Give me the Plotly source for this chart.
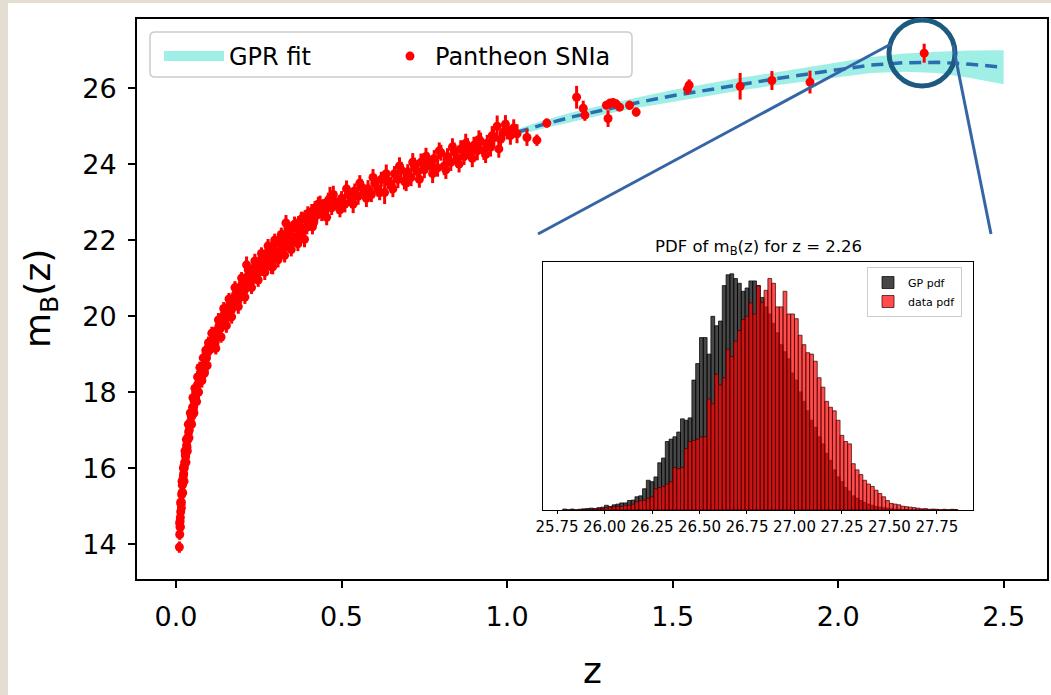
import plotly.graph_objects as go

# ---------------- data: Pantheon SNIa ----------------
z_sn = [
    0.010, 0.011, 0.012, 0.012, 0.013, 0.014, 0.015, 0.016, 0.017, 0.018, 0.019, 0.020,
    0.021, 0.022, 0.023, 0.024, 0.025, 0.026, 0.028, 0.029, 0.030, 0.032, 0.033, 0.035,
    0.036, 0.038, 0.040, 0.042, 0.044, 0.046, 0.048, 0.050, 0.052, 0.055, 0.058, 0.060,
    0.063, 0.066, 0.070, 0.073, 0.076, 0.080, 0.084, 0.088, 0.092, 0.096, 0.100,
    0.011, 0.013, 0.014, 0.016, 0.018, 0.020, 0.022, 0.024, 0.027, 0.030, 0.031, 0.034,
    0.037, 0.039, 0.043, 0.047, 0.051, 0.054, 0.057, 0.062, 0.065, 0.068, 0.072, 0.078,
    0.082, 0.086, 0.090, 0.094, 0.098,
    0.105, 0.110, 0.115, 0.118, 0.122, 0.126, 0.130, 0.134, 0.138, 0.142, 0.146, 0.150,
    0.154, 0.158, 0.162, 0.166, 0.170, 0.175, 0.180, 0.185, 0.190, 0.195, 0.200, 0.205,
    0.210, 0.215, 0.220, 0.225, 0.230, 0.235, 0.240, 0.245, 0.250, 0.255, 0.260, 0.265,
    0.270, 0.275, 0.280, 0.285, 0.290, 0.295, 0.300, 0.305, 0.310, 0.315, 0.320, 0.325,
    0.330, 0.335, 0.340, 0.345, 0.350, 0.355, 0.360, 0.365, 0.370, 0.375, 0.380, 0.385,
    0.390, 0.395, 0.400, 0.213, 0.292, 0.332,
    0.108, 0.120, 0.128, 0.136, 0.144, 0.152, 0.160, 0.168, 0.178, 0.188, 0.198, 0.208,
    0.218, 0.228, 0.238, 0.248, 0.258, 0.268, 0.278, 0.288, 0.298, 0.308, 0.318, 0.328,
    0.338, 0.348, 0.358, 0.368, 0.378, 0.388, 0.398,
    0.405, 0.410, 0.415, 0.420, 0.425, 0.430, 0.440, 0.445, 0.450, 0.460, 0.465, 0.470,
    0.480, 0.490, 0.500, 0.510, 0.520, 0.530, 0.540, 0.550, 0.560, 0.570, 0.580, 0.590,
    0.600, 0.610, 0.620, 0.630, 0.640, 0.650, 0.660, 0.670, 0.680, 0.690, 0.700, 0.710,
    0.720, 0.730, 0.740, 0.750, 0.760, 0.770, 0.780, 0.790, 0.800, 0.810, 0.820, 0.830,
    0.840, 0.850, 0.860, 0.870, 0.880, 0.890, 0.900, 0.910, 0.920, 0.930, 0.940, 0.950,
    0.960, 0.970, 0.980, 0.990, 1.000, 1.010, 1.020, 1.030, 1.060,
    0.412, 0.435, 0.455, 0.475, 0.495, 0.515, 0.535, 0.555, 0.575, 0.595, 0.615, 0.635,
    0.655, 0.675, 0.695, 0.715, 0.735, 0.755, 0.775, 0.795, 0.815, 0.835, 0.855, 0.875,
    0.895, 0.915, 0.935, 0.955, 0.975, 0.995,
    1.090, 1.120, 1.210, 1.230, 1.235, 1.300, 1.305, 1.310, 1.320, 1.330, 1.340, 1.370,
    1.390, 1.545, 1.550, 1.704, 1.800, 1.915, 2.260,
]
mb_sn = [
    13.92, 14.25, 14.45, 14.60, 14.70, 14.85, 15.05, 15.10, 15.30, 15.35, 15.55, 15.60,
    15.70, 15.80, 15.85, 16.05, 16.00, 16.15, 16.35, 16.30, 16.45, 16.60, 16.55, 16.80,
    16.75, 16.95, 17.00, 17.15, 17.20, 17.35, 17.40, 17.60, 17.55, 17.75, 17.80, 18.00,
    18.05, 18.20, 18.30, 18.45, 18.50, 18.65, 18.70, 18.85, 18.90, 19.05, 19.10,
    14.55, 14.45, 15.10, 14.95, 15.65, 15.35, 16.00, 15.65, 16.45, 16.15, 16.75, 16.45,
    17.15, 16.80, 17.45, 17.15, 17.85, 17.45, 18.10, 17.75, 18.40, 18.00, 18.65, 18.30,
    18.90, 18.50, 19.10, 18.70, 19.30,
    19.25, 19.20, 19.45, 19.30, 19.62, 19.50, 19.75, 19.68, 19.92, 19.78, 20.05, 19.95,
    20.18, 20.02, 20.30, 20.15, 20.42, 20.28, 20.58, 20.40, 20.72, 20.50, 20.86, 20.66,
    20.95, 20.78, 21.08, 20.90, 21.20, 21.02, 21.32, 21.10, 21.40, 21.22, 21.50, 21.30,
    21.58, 21.42, 21.75, 21.48, 21.80, 21.56, 21.92, 21.62, 21.97, 21.72, 22.08, 21.80,
    22.12, 21.90, 22.22, 21.96, 22.30, 22.02, 22.38, 22.10, 22.46, 22.18, 22.55, 22.26,
    22.60, 22.34, 22.66, 21.35, 21.30, 22.45,
    19.55, 19.15, 19.90, 19.45, 20.20, 19.75, 20.45, 19.98, 20.75, 20.25, 21.00, 20.50,
    21.22, 20.75, 21.45, 20.95, 21.65, 21.15, 21.85, 21.30, 22.00, 21.48, 22.15, 21.60,
    22.30, 21.75, 22.42, 21.90, 22.55, 22.02, 22.70,
    22.55, 22.75, 22.45, 22.85, 22.65, 22.95, 22.70, 22.90, 22.75, 23.05, 23.10, 22.85,
    23.00, 22.90, 23.10, 22.95, 23.20, 23.05, 23.30, 23.15, 23.40, 23.25, 23.35, 23.20,
    23.50, 23.35, 23.60, 23.25, 23.55, 23.45, 23.75, 23.60, 23.85, 23.55, 23.80, 23.65,
    23.95, 23.80, 24.05, 23.85, 24.10, 23.95, 24.15, 23.90, 24.30, 23.95, 24.20, 24.05,
    24.35, 24.15, 24.40, 24.20, 24.45, 24.30, 24.50, 24.35, 24.60, 24.35, 24.55, 24.45,
    24.70, 25.00, 24.65, 24.85, 24.90, 24.75, 24.95, 24.80, 24.70,
    22.35, 22.95, 22.60, 23.20, 22.80, 23.35, 22.95, 23.50, 23.10, 23.65, 23.25, 23.75,
    23.35, 23.95, 23.50, 24.05, 23.60, 24.20, 23.75, 24.35, 23.85, 24.45, 24.00, 24.55,
    24.15, 24.65, 24.25, 24.75, 24.40, 25.05,
    24.63, 25.08, 25.76, 25.47, 25.29, 25.55, 25.20, 25.60, 25.62, 25.58, 25.50, 25.55,
    25.37, 25.98, 26.08, 26.05, 26.20, 26.16, 26.92,
]
err_sn = [
    0.15, 0.14, 0.15, 0.13, 0.16, 0.14, 0.15, 0.13, 0.14, 0.16, 0.15, 0.14,
    0.13, 0.15, 0.14, 0.16, 0.15, 0.14, 0.13, 0.15, 0.16, 0.14, 0.15, 0.13,
    0.14, 0.16, 0.15, 0.14, 0.13, 0.15, 0.14, 0.16, 0.15, 0.14, 0.13, 0.15,
    0.16, 0.14, 0.15, 0.13, 0.14, 0.16, 0.15, 0.14, 0.13, 0.15, 0.14,
    0.16, 0.15, 0.14, 0.17, 0.15, 0.16, 0.14, 0.17, 0.15, 0.16, 0.14, 0.17,
    0.15, 0.16, 0.18, 0.15, 0.17, 0.16, 0.15, 0.18, 0.16, 0.17, 0.15, 0.18,
    0.16, 0.17, 0.15, 0.18, 0.16,
    0.14, 0.16, 0.15, 0.17, 0.13, 0.15, 0.16, 0.14, 0.18, 0.15, 0.14, 0.16,
    0.15, 0.17, 0.14, 0.16, 0.15, 0.18, 0.14, 0.16, 0.15, 0.17, 0.16, 0.14,
    0.18, 0.15, 0.16, 0.17, 0.15, 0.16, 0.18, 0.15, 0.17, 0.16, 0.15, 0.18,
    0.16, 0.17, 0.15, 0.18, 0.16, 0.17, 0.15, 0.18, 0.16, 0.17, 0.19, 0.16,
    0.18, 0.17, 0.16, 0.19, 0.17, 0.18, 0.16, 0.19, 0.17, 0.18, 0.20, 0.17,
    0.18, 0.19, 0.17, 0.22, 0.20, 0.21,
    0.17, 0.16, 0.18, 0.15, 0.17, 0.19, 0.16, 0.18, 0.17, 0.19, 0.16, 0.18,
    0.20, 0.17, 0.19, 0.18, 0.16, 0.20, 0.18, 0.19, 0.17, 0.20, 0.18, 0.19,
    0.21, 0.18, 0.20, 0.19, 0.18, 0.21, 0.19,
    0.18, 0.20, 0.19, 0.18, 0.21, 0.19, 0.20, 0.18, 0.21, 0.20, 0.30, 0.19,
    0.20, 0.21, 0.19, 0.22, 0.20, 0.21, 0.19, 0.22, 0.20, 0.21, 0.23, 0.20,
    0.22, 0.21, 0.20, 0.30, 0.21, 0.22, 0.20, 0.23, 0.21, 0.22, 0.20, 0.23,
    0.22, 0.21, 0.23, 0.22, 0.21, 0.24, 0.22, 0.23, 0.21, 0.24, 0.22, 0.23,
    0.22, 0.24, 0.23, 0.22, 0.24, 0.23, 0.22, 0.25, 0.23, 0.24, 0.22, 0.25,
    0.23, 0.28, 0.24, 0.23, 0.25, 0.24, 0.23, 0.25, 0.22,
    0.20, 0.22, 0.21, 0.23, 0.20, 0.22, 0.24, 0.21, 0.23, 0.22, 0.20, 0.24,
    0.22, 0.23, 0.21, 0.24, 0.22, 0.23, 0.25, 0.22, 0.24, 0.23, 0.22, 0.25,
    0.23, 0.24, 0.22, 0.25, 0.23, 0.24,
    0.15, 0.12, 0.30, 0.20, 0.15, 0.10, 0.22, 0.12, 0.10, 0.12, 0.10, 0.12,
    0.12, 0.15, 0.15, 0.35, 0.25, 0.30, 0.25,
]

# ---------------- data: GPR reconstruction ----------------
z_gp = [1.03, 1.10, 1.20, 1.30, 1.40, 1.50, 1.60, 1.70, 1.80, 1.90, 2.00, 2.10, 2.20, 2.30, 2.40, 2.50]
mean_gp = [24.84, 25.02, 25.25, 25.45, 25.63, 25.80, 25.95, 26.10, 26.23, 26.36, 26.48, 26.61, 26.67, 26.68, 26.63, 26.55]
sigma_gp = [0.08, 0.10, 0.12, 0.13, 0.14, 0.15, 0.16, 0.17, 0.17, 0.18, 0.19, 0.21, 0.24, 0.28, 0.36, 0.45]

# ---------------- data: inset histograms (PDF at z = 2.26) ----------------
bin_centers = [
    25.79, 25.81, 25.83, 25.85, 25.87, 25.89, 25.91, 25.93, 25.95, 25.97,
    25.99, 26.01, 26.03, 26.05, 26.07, 26.09, 26.11, 26.13, 26.15, 26.17,
    26.19, 26.21, 26.23, 26.25, 26.27, 26.29, 26.31, 26.33, 26.35, 26.37,
    26.39, 26.41, 26.43, 26.45, 26.47, 26.49, 26.51, 26.53, 26.55, 26.57,
    26.59, 26.61, 26.63, 26.65, 26.67, 26.69, 26.71, 26.73, 26.75, 26.77,
    26.79, 26.81, 26.83, 26.85, 26.87, 26.89, 26.91, 26.93, 26.95, 26.97,
    26.99, 27.01, 27.03, 27.05, 27.07, 27.09, 27.11, 27.13, 27.15, 27.17,
    27.19, 27.21, 27.23, 27.25, 27.27, 27.29, 27.31, 27.33, 27.35, 27.37,
    27.39, 27.41, 27.43, 27.45, 27.47, 27.49, 27.51, 27.53, 27.55, 27.57,
    27.59, 27.61, 27.63, 27.65, 27.67, 27.69, 27.71, 27.73, 27.75, 27.77,
    27.79, 27.81, 27.83, 27.85,
]
gp_counts = [
    0.4, 0.0, 0.4, 0.0, 0.3, 0.5, 0.6, 0.8, 0.6, 1.0,
    1.2, 2.0, 1.5, 2.2, 2.5, 3.0, 3.0, 4.0, 4.2, 5.6,
    6.0, 9.0, 12.6, 12.0, 14.0, 20.0, 22.0, 29.0, 30.0, 31.0,
    33.0, 38.6, 38.0, 39.0, 55.0, 62.0, 73.0, 73.0, 66.0, 82.0,
    78.0, 80.0, 95.0, 99.6, 100.0, 98.0, 96.0, 92.6, 94.0, 97.0,
    97.0, 95.0, 90.0, 86.0, 83.0, 79.0, 75.0, 70.0, 67.0, 64.0,
    58.0, 55.0, 50.0, 46.0, 42.0, 38.0, 35.0, 31.0, 28.0, 24.0,
    21.0, 17.0, 14.0, 12.0, 9.5, 8.0, 6.0, 5.0, 4.0, 3.2,
    2.5, 2.0, 1.5, 1.2, 1.0, 0.8, 0.6, 0.4, 0.3, 0.2,
    0.2, 0.0, 0.0, 0.0, 0.2, 0.0, 0.0, 0.0, 0.0, 0.0,
    0.0, 0.0, 0.0, 0.0,
]
data_counts = [
    0.0, 0.0, 0.0, 0.0, 0.0, 0.0, 0.3, 0.0, 0.4, 0.5,
    0.6, 1.0, 1.2, 1.4, 1.6, 1.5, 2.0, 2.0, 2.5, 3.5,
    4.0, 4.2, 5.0, 5.6, 9.0, 9.5, 10.0, 11.0, 12.0, 18.0,
    17.5, 18.0, 26.0, 29.0, 29.5, 30.0, 31.0, 31.0, 47.0, 45.0,
    57.5, 53.0, 56.0, 68.0, 65.0, 71.5, 76.0, 80.6, 82.0, 87.7,
    83.0, 95.0, 88.0, 93.0, 98.0, 96.0, 86.0, 86.0, 92.6, 83.0,
    83.0, 81.0, 74.0, 70.0, 66.6, 66.0, 63.0, 56.0, 52.0, 46.0,
    43.5, 42.0, 38.0, 31.6, 29.0, 28.0, 19.6, 17.0, 15.0, 12.6,
    11.0, 10.0, 8.4, 7.0, 5.6, 4.0, 2.8, 2.5, 2.2, 1.6,
    1.4, 1.2, 1.0, 0.8, 0.5, 0.6, 0.3, 0.4, 0.3, 0.0,
    0.3, 0.0, 0.3, 0.2,
]
inset_ticks = [25.75, 26.00, 26.25, 26.50, 26.75, 27.00, 27.25, 27.50, 27.75]
main_xticks = [0.0, 0.5, 1.0, 1.5, 2.0, 2.5]
main_yticks = [14, 16, 18, 20, 22, 24, 26]

# ---------------- layout helpers (pixel -> paper) ----------------
W, H = 1051, 695
L, R, T, B = 137, 1047, 19, 579
PW, PH = R - L, B - T


def px(x):
    return (x - L) / PW


def py(y):
    return (B - y) / PH


FONT = "DejaVu Sans"
BAND = "rgba(64,224,208,0.5)"
fig = go.Figure()

# GPR band
band_x = z_gp + z_gp[::-1]
band_y = [m + s for m, s in zip(mean_gp, sigma_gp)] + [m - s for m, s in zip(mean_gp[::-1], sigma_gp[::-1])]
fig.add_trace(go.Scatter(
    x=band_x, y=band_y, fill="toself", fillcolor=BAND,
    line=dict(width=0), mode="lines", name="GPR fit", hoverinfo="skip", showlegend=False,
))
# legend entry for the band (wide patch)
fig.add_trace(go.Scatter(
    x=[None], y=[None], mode="lines", name="GPR fit", legend="legend",
    line=dict(color=BAND, width=20),
))
fig.add_trace(go.Scatter(
    x=z_gp, y=mean_gp, mode="lines", line=dict(color="#2a6db0", width=3.5, dash="12px,7px"),
    showlegend=False,
))
fig.add_trace(go.Scatter(
    x=z_sn, y=mb_sn, mode="markers", name="Pantheon SNIa", legend="legend3",
    marker=dict(color="#ff0000", size=9),
    error_y=dict(type="data", array=err_sn, color="#ff0000", thickness=3, width=0),
))

# inset histograms
fig.add_trace(go.Bar(
    x=bin_centers, y=gp_counts, width=0.02, name="GP pdf",
    marker=dict(color="rgba(0,0,0,0.72)", line=dict(color="rgba(0,0,0,0.9)", width=0.8)),
    xaxis="x2", yaxis="y2", legend="legend2",
))
fig.add_trace(go.Bar(
    x=bin_centers, y=data_counts, width=0.02, name="data pdf",
    marker=dict(color="rgba(255,0,0,0.7)", line=dict(color="rgba(60,0,0,0.9)", width=0.8)),
    xaxis="x2", yaxis="y2", legend="legend2",
))

axis_common = dict(showline=True, mirror=True, linecolor="black", linewidth=2,
                   ticks="outside", ticklen=7, tickwidth=1.5, tickcolor="black",
                   showgrid=False, zeroline=False, automargin=False,
                   tickfont=dict(family=FONT, size=27, color="black"))

leg_common = dict(orientation="h", xanchor="left", yanchor="top",
                  font=dict(family=FONT, size=24, color="black"),
                  bgcolor="rgba(0,0,0,0)", borderwidth=0)

fig.update_layout(
    width=W, height=H,
    margin=dict(l=L, r=W - R, t=T, b=H - B, pad=0, autoexpand=False),
    paper_bgcolor="white", plot_bgcolor="white",
    font=dict(family=FONT, color="black"),
    barmode="overlay",
    xaxis=dict(range=[-0.118, 2.631], tickvals=main_xticks,
               ticktext=["%.1f" % v for v in main_xticks], ticklabelstandoff=6, **axis_common),
    yaxis=dict(range=[13.08, 27.82], tickvals=main_yticks, ticklabelstandoff=6, **axis_common),
    xaxis2=dict(domain=[px(543), px(973)], anchor="y2", range=[25.676, 27.94],
                tickvals=inset_ticks, ticktext=["%.2f" % v for v in inset_ticks], tickangle=0,
                showline=True, mirror=True, linecolor="black", linewidth=1,
                ticks="outside", ticklen=3, tickwidth=1, tickcolor="black",
                showgrid=False, zeroline=False, automargin=False,
                tickfont=dict(family=FONT, size=15, color="black")),
    yaxis2=dict(domain=[py(510), py(262)], anchor="x2", range=[0, 105],
                showline=True, mirror=True, linecolor="black", linewidth=1,
                showticklabels=False, ticks="", showgrid=False, zeroline=False, automargin=False),
    legend=dict(x=px(159), y=py(34), itemwidth=60, **leg_common),
    legend3=dict(x=px(385), y=py(34), itemwidth=40, **leg_common),
    legend2=dict(x=px(867), y=py(267), xanchor="left", yanchor="top",
                 font=dict(family=FONT, size=11, color="black"),
                 bgcolor="white", bordercolor="#cccccc", borderwidth=1,
                 tracegroupgap=0, itemwidth=30),
    showlegend=True,
)

# main legend frame (rounded box enclosing both legend entries)
x0, x1, y0, y1, r = 150, 632, 32, 77, 5
rx, ry = r / PW, r / PH
frame_path = (
    f"M {px(x0) + rx},{py(y0)} L {px(x1) - rx},{py(y0)} Q {px(x1)},{py(y0)} {px(x1)},{py(y0) - ry} "
    f"L {px(x1)},{py(y1) + ry} Q {px(x1)},{py(y1)} {px(x1) - rx},{py(y1)} "
    f"L {px(x0) + rx},{py(y1)} Q {px(x0)},{py(y1)} {px(x0)},{py(y1) + ry} "
    f"L {px(x0)},{py(y0) - ry} Q {px(x0)},{py(y0)} {px(x0) + rx},{py(y0)} Z"
)
fig.add_shape(type="path", path=frame_path, xref="paper", yref="paper", layer="above",
              fillcolor="rgba(255,255,255,0.8)", line=dict(color="#cccccc", width=1.5))

# axis titles and inset title as annotations
fig.add_annotation(x=px(592), y=py(670), xref="paper", yref="paper", text="z",
                   xanchor="center", yanchor="middle",
                   showarrow=False, font=dict(family=FONT, size=36, color="black"))
fig.add_annotation(x=px(40), y=py(299), xref="paper", yref="paper", text="m<sub>B</sub>(z)",
                   xanchor="center", yanchor="middle",
                   textangle=-90, showarrow=False, font=dict(family=FONT, size=36, color="black"))
fig.add_annotation(x=px(758), y=py(247), xref="paper", yref="paper",
                   text="PDF of m<sub>B</sub>(z) for z = 2.26",
                   xanchor="center", yanchor="middle",
                   showarrow=False, font=dict(family=FONT, size=16.5, color="black"))

# zoom circle and connecting lines
fig.add_shape(type="circle", xref="paper", yref="paper",
              x0=px(889), x1=px(955), y0=py(86), y1=py(20),
              line=dict(color="#1c5a80", width=5))
fig.add_shape(type="line", xref="paper", yref="paper",
              x0=px(538), y0=py(234), x1=px(891), y1=py(44),
              line=dict(color="#3665a6", width=3))
fig.add_shape(type="line", xref="paper", yref="paper",
              x0=px(953), y0=py(45), x1=px(991), y1=py(234),
              line=dict(color="#3665a6", width=3))

# beige frame strips of the original screenshot
fig.add_shape(type="rect", xref="paper", yref="paper", layer="above",
              x0=px(0), x1=px(8), y0=py(H), y1=py(0),
              line=dict(width=0), fillcolor="#e4ddd2")
fig.add_shape(type="rect", xref="paper", yref="paper", layer="above",
              x0=px(0), x1=px(W), y0=py(3), y1=py(0),
              line=dict(width=0), fillcolor="#e4ddd2")

fig.write_html("out.html")
